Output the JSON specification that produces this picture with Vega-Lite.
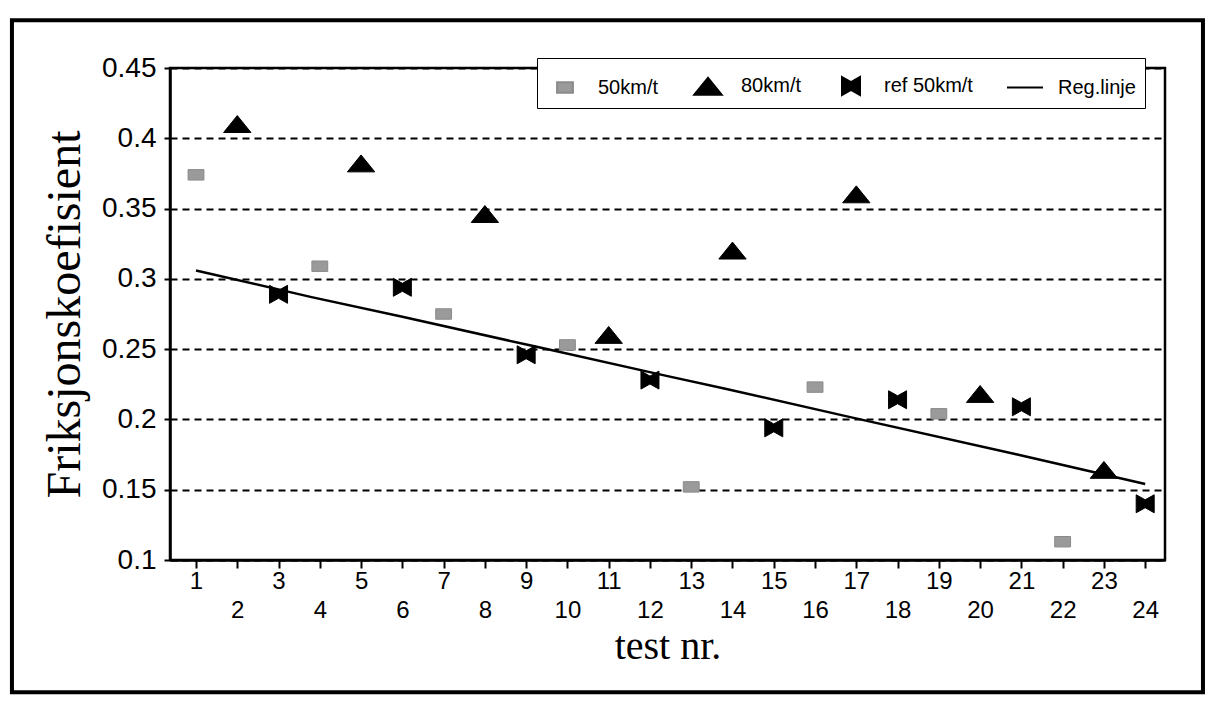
{
  "$schema": "https://vega.github.io/schema/vega-lite/v6.json",
  "autosize": "none",
  "width": 995,
  "height": 492,
  "padding": {"left": 170, "top": 68, "right": 47, "bottom": 144},
  "background": "white",
  "config": {
    "view": {"stroke": "black", "strokeWidth": 2.5},
    "font": "Liberation Sans"
  },
  "datasets": {
    "points": [
      {"test": 1, "value": 0.374, "series": "50km/t"},
      {"test": 2, "value": 0.41, "series": "80km/t"},
      {"test": 3, "value": 0.289, "series": "ref 50km/t"},
      {"test": 4, "value": 0.309, "series": "50km/t"},
      {"test": 5, "value": 0.382, "series": "80km/t"},
      {"test": 6, "value": 0.294, "series": "ref 50km/t"},
      {"test": 7, "value": 0.275, "series": "50km/t"},
      {"test": 8, "value": 0.346, "series": "80km/t"},
      {"test": 9, "value": 0.246, "series": "ref 50km/t"},
      {"test": 10, "value": 0.253, "series": "50km/t"},
      {"test": 11, "value": 0.26, "series": "80km/t"},
      {"test": 12, "value": 0.228, "series": "ref 50km/t"},
      {"test": 13, "value": 0.152, "series": "50km/t"},
      {"test": 14, "value": 0.32, "series": "80km/t"},
      {"test": 15, "value": 0.194, "series": "ref 50km/t"},
      {"test": 16, "value": 0.223, "series": "50km/t"},
      {"test": 17, "value": 0.36, "series": "80km/t"},
      {"test": 18, "value": 0.214, "series": "ref 50km/t"},
      {"test": 19, "value": 0.204, "series": "50km/t"},
      {"test": 20, "value": 0.218, "series": "80km/t"},
      {"test": 21, "value": 0.209, "series": "ref 50km/t"},
      {"test": 22, "value": 0.113, "series": "50km/t"},
      {"test": 23, "value": 0.164, "series": "80km/t"},
      {"test": 24, "value": 0.14, "series": "ref 50km/t"}
    ],
    "regline": [
      {"test": 1, "value": 0.306},
      {"test": 3.8, "value": 0.287},
      {"test": 6, "value": 0.273},
      {"test": 9.2, "value": 0.252},
      {"test": 12.4, "value": 0.231},
      {"test": 13.8, "value": 0.222},
      {"test": 16.8, "value": 0.202},
      {"test": 20.9, "value": 0.175},
      {"test": 24, "value": 0.154}
    ]
  },
  "layer": [
    {
      "data": {"values": [{"x0": -3.46, "x1": 25.4, "y0": 0.006, "y1": 0.484}]},
      "mark": {"type": "rect", "clip": false, "fill": null, "fillOpacity": 0, "stroke": "black", "strokeWidth": 4},
      "encoding": {
        "x": {"field": "x0", "type": "quantitative", "scale": {"domain": [0.37, 24.48], "nice": false, "zero": false}},
        "x2": {"field": "x1"},
        "y": {"field": "y0", "type": "quantitative", "scale": {"domain": [0.1, 0.45], "nice": false, "zero": false}},
        "y2": {"field": "y1"}
      }
    },
    {
      "data": {"name": "regline"},
      "mark": {"type": "line", "color": "black", "strokeWidth": 2.5},
      "encoding": {
        "x": {"field": "test", "type": "quantitative"},
        "y": {"field": "value", "type": "quantitative"}
      }
    },
    {
      "data": {"name": "points"},
      "mark": {"type": "point", "filled": true, "opacity": 1, "strokeWidth": 1, "size": 1296},
      "encoding": {
        "x": {
          "field": "test", "type": "quantitative",
          "axis": {
            "values": [1,2,3,4,5,6,7,8,9,10,11,12,13,14,15,16,17,18,19,20,21,22,23,24],
            "grid": false,
            "title": "test nr.",
            "titleFont": "Liberation Serif", "titleFontSize": 40, "titleFontWeight": "normal", "titleColor": "black",
            "titlePadding": 4,
            "labelFont": "Liberation Sans", "labelFontSize": 24, "labelColor": "black",
            "labelPadding": {"condition": {"test": "datum.value % 2 === 0", "value": 30}, "value": 1},
            "labelFlush": false, "labelOverlap": false,
            "tickSize": 8, "tickWidth": 2, "tickColor": "black",
            "domainColor": "black", "domainWidth": 2.5
          }
        },
        "y": {
          "field": "value", "type": "quantitative",
          "axis": {
            "values": [0.1, 0.15, 0.2, 0.25, 0.3, 0.35, 0.4, 0.45],
            "format": ".2~f",
            "grid": true, "gridColor": "black", "gridDash": [7, 5], "gridWidth": 2, "gridOpacity": 1,
            "title": "Friksjonskoefisient",
            "titleFont": "Liberation Serif", "titleFontSize": 48, "titleFontWeight": "normal", "titleColor": "black",
            "titlePadding": 12,
            "labelFont": "Liberation Sans", "labelFontSize": 28, "labelColor": "black",
            "labelPadding": 8, "labelFlush": false,
            "tickSize": 6, "tickWidth": 2, "tickColor": "black",
            "domainColor": "black", "domainWidth": 2.5
          }
        },
        "shape": {
          "field": "series", "type": "nominal",
          "scale": {
            "domain": ["50km/t", "80km/t", "ref 50km/t", "Reg.linje"],
            "range": [
              "M-0.44,-0.29L0.44,-0.29L0.44,0.29L-0.44,0.29Z",
              "M-0.76,0.46L0,-0.48L0.76,0.46Z",
              "M-0.5,-0.5L0,-0.22L0.5,-0.5L0.5,0.5L0,0.22L-0.5,0.5Z",
              "M-1,0L1,0"
            ]
          },
          "legend": {
            "title": null,
            "orient": "none", "legendX": 367, "legendY": -10,
            "direction": "horizontal", "columns": 4, "columnPadding": 30,
            "strokeColor": "black", "fillColor": "white", "padding": 9,
            "labelFont": "Liberation Sans", "labelFontSize": 20, "labelColor": "black",
            "symbolStrokeWidth": 2, "symbolOpacity": 1, "labelOffset": 14, "symbolSize": 1296
          }
        },
        "fill": {
          "field": "series", "type": "nominal",
          "scale": {"domain": ["50km/t", "80km/t", "ref 50km/t", "Reg.linje"], "range": ["#9a9a9a", "black", "black", "black"]}
        },
        "stroke": {
          "field": "series", "type": "nominal",
          "scale": {"domain": ["50km/t", "80km/t", "ref 50km/t", "Reg.linje"], "range": ["#8a8a8a", "black", "black", "black"]}
        }
      }
    }
  ]
}
